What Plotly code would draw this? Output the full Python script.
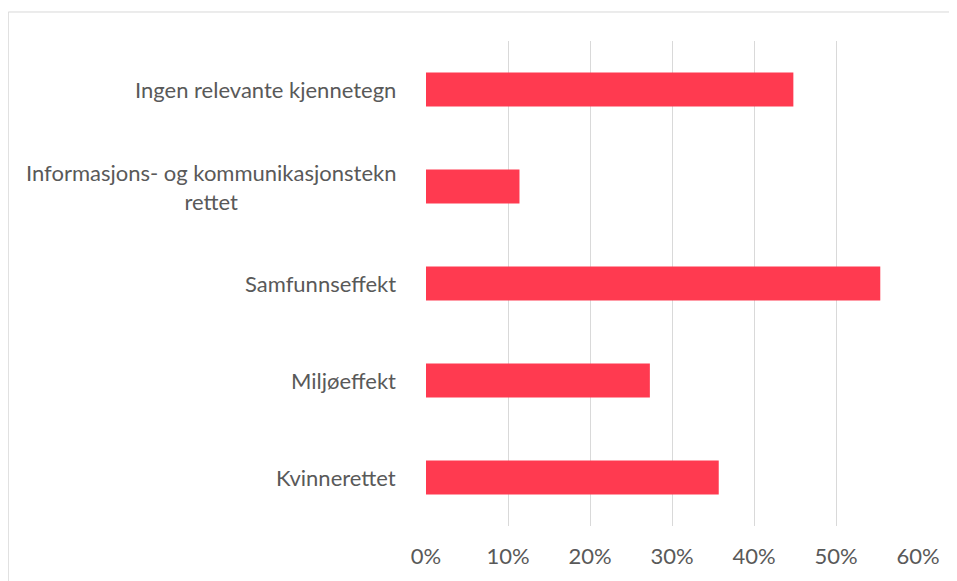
import plotly.graph_objects as go

categories = [
    "Ingen relevante kjennetegn",
    "Informasjons- og kommunikasjonstekn<br>rettet",
    "Samfunnseffekt",
    "Miljøeffekt",
    "Kvinnerettet",
]
values = [0.448, 0.114, 0.554, 0.273, 0.357]
x_ticks = [0, 0.1, 0.2, 0.3, 0.4, 0.5, 0.6]
x_tick_labels = ["0%", "10%", "20%", "30%", "40%", "50%", "60%"]

FONT = "Lato"
TXT = "#595959"
GRID = "#d9d9d9"

fig = go.Figure()
fig.add_trace(go.Bar(
    y=categories,
    x=values,
    orientation="h",
    marker=dict(color="#FF3A50", line=dict(width=0)),
    width=0.35,
    hoverinfo="x+y",
))

for c in categories:
    fig.add_annotation(
        x=0, xref="paper", y=c, yref="y",
        text=c, showarrow=False,
        xanchor="right", yanchor="middle", xshift=-28,
        align="center",
        font=dict(family=FONT, size=22, color=TXT),
    )

fig.update_layout(
    width=949, height=573,
    margin=dict(l=418, r=39, t=33, b=55),
    paper_bgcolor="white",
    plot_bgcolor="white",
    showlegend=False,
    bargap=0.65,
    font=dict(family=FONT, size=22, color=TXT),
    shapes=[dict(
        type="rect", xref="paper", yref="paper",
        x0=-0.849, x1=1.5, y0=-0.5, y1=1.0598,
        line=dict(color=GRID, width=1), fillcolor="rgba(0,0,0,0)",
        layer="below",
    )],
)
fig.update_xaxes(
    range=[0, 0.6],
    tickvals=x_ticks,
    ticktext=x_tick_labels,
    showgrid=True, gridcolor=GRID, gridwidth=1,
    zeroline=False, showline=False,
    ticks="",
    ticklabelstandoff=15,
    tickfont=dict(family=FONT, size=22, color=TXT),
    fixedrange=True,
)
fig.update_yaxes(
    autorange="reversed",
    showticklabels=False,
    showgrid=False, zeroline=False, showline=False,
    ticks="",
    fixedrange=True,
)

fig.write_html("out.html")
